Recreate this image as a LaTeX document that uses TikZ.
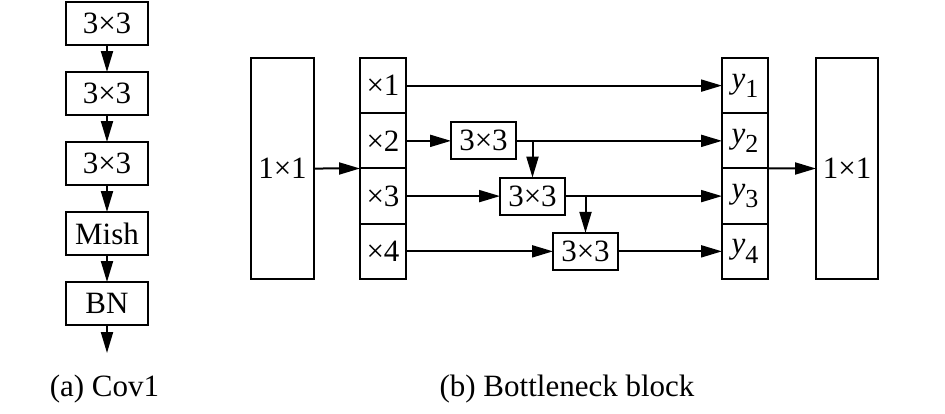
\documentclass[tikz,border=0pt]{standalone}
\usepackage{fontspec}
\setmainfont{Liberation Serif}
\usetikzlibrary{arrows.meta, positioning}
\newcommand{\ylab}[1]{\textit{y}\raisebox{-0.3em}{\fontsize{26}{26}\selectfont #1}}

\begin{document}
\begin{tikzpicture}[
    x=1pt, y=-1pt,
    node distance=27pt,
    box/.style={rectangle, draw, line width=2pt, outer sep=0pt, minimum width=82pt, minimum height=43pt, inner sep=0pt, font=\fontsize{31}{37}\selectfont},
    conv/.style={box, minimum width=65pt, minimum height=37pt},
    cell/.style={box, minimum width=46pt, minimum height=55.25pt},
    tall/.style={box, minimum width=63pt, minimum height=221pt},
    caption/.style={font=\fontsize{31}{37}\selectfont},
    arrow/.style={-{Triangle[length=21pt, width=12pt]}, line width=2pt}
  ]
    \useasboundingbox (0,0) rectangle (945,413);
    % (a) Cov1
    \node[box] (c1) at (107,23.5) {3×3};
    \node[box, below=of c1] (c2) {3×3};
    \node[box, below=of c2] (c3) {3×3};
    \node[box, below=of c3] (mish) {Mish};
    \node[box, below=of mish] (bn) {BN};
    \coordinate[below=28pt of bn] (cout);
    \draw[arrow] (c1) -- (c2);
    \draw[arrow] (c2) -- (c3);
    \draw[arrow] (c3) -- (mish);
    \draw[arrow] (mish) -- (bn);
    \draw[arrow] (bn) -- (cout);
    \node[caption] (capa) at (104.5,389) {(a) Cov1};
    % (b) Bottleneck block
    \node[tall] (inL) at (282.5,168.5) {1×1};
    \node[cell] (s1) at (383,85.6) {×1};
    \node[cell, below=0pt of s1] (s2) {×2};
    \node[cell, below=0pt of s2] (s3) {×3};
    \node[cell, below=0pt of s3] (s4) {×4};
    \node[conv, right=45pt of s2] (A) {3×3};
    \node[conv, right=94pt of s3] (B) {3×3};
    \node[conv, right=147pt of s4] (C) {3×3};
    \node[cell, right=316pt of s1] (r1) {\ylab{1}};
    \node[cell, below=0pt of r1] (r2) {\ylab{2}};
    \node[cell, below=0pt of r2] (r3) {\ylab{3}};
    \node[cell, below=0pt of r3] (r4) {\ylab{4}};
    \node[tall, minimum width=62pt] (outR) at (847,168.5) {1×1};
    \coordinate (jA) at (B.north |- A.east);
    \coordinate (jB) at (C.north |- B.east);
    \draw[arrow] (inL.east) -- (s2.south west);
    \draw[arrow] (s1) -- (r1);
    \draw[arrow] (s2) -- (A);
    \draw[arrow] (A) -- (r2);
    \draw[arrow] (jA) -- (B.north);
    \draw[arrow] (s3) -- (B);
    \draw[arrow] (B) -- (r3);
    \draw[arrow] (jB) -- (C.north);
    \draw[arrow] (s4) -- (C);
    \draw[arrow] (C) -- (r4);
    \draw[arrow] (r2.south east) -- (outR.west);
    \node[caption] (capb) at (567,389) {(b) Bottleneck block};
  \end{tikzpicture}
\end{document}
